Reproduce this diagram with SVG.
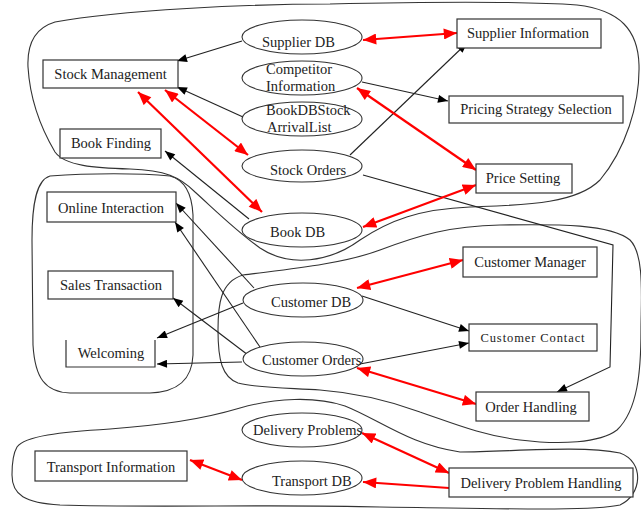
<svg xmlns="http://www.w3.org/2000/svg" width="641" height="510" viewBox="0 0 641 510">
<style>
text{font-family:"Liberation Serif","Times New Roman",serif;font-size:14.5px;fill:#222}
.box{fill:#fff;stroke:#333;stroke-width:1.2}
.ell{fill:#fff;stroke:#333;stroke-width:1.1}
.cl{fill:none;stroke:#333;stroke-width:1.1}
.bk{fill:none;stroke:#222;stroke-width:1.1;marker-end:url(#ab)}
.rd{fill:none;stroke:#f00;stroke-width:2.2;marker-end:url(#ar);marker-start:url(#ar)}
.rd1{fill:none;stroke:#f00;stroke-width:2.2;marker-end:url(#ar)}
.m{text-anchor:middle}
</style>
<defs>
<marker id="ab" viewBox="0 0 10 8" refX="10" refY="4" markerWidth="11" markerHeight="8" markerUnits="userSpaceOnUse" orient="auto-start-reverse"><path d="M0,0 L10,4 L0,8 Z" fill="#000"/></marker>
<marker id="ar" viewBox="0 0 12 10" refX="12" refY="5" markerWidth="14" markerHeight="11" markerUnits="userSpaceOnUse" orient="auto-start-reverse"><path d="M0,0 L12,5 L0,10 Z" fill="#f00"/></marker>
</defs>
<rect width="641" height="510" fill="#fff"/>
<g id="clusters">
<path class="cl" d="M28,67 C27,45 35,28 55,22 C120,10 250,4 330,4 C420,2 520,1 577,5 C620,10 638,30 639,65 C640,105 625,150 600,180 C575,205 520,205 470,207 C420,209 390,220 360,240 C330,262 290,268 260,248 C235,230 215,210 195,192 C180,177 165,170 130,169 C95,168 65,166 55,152 C42,130 30,100 28,67 Z"/>
<path class="cl" d="M50,176 C90,173 140,173 170,176 C185,180 192,195 193,215 L193,355 C192,380 178,392 150,393 L70,393 C45,392 35,378 33,345 L32,240 C32,205 36,180 50,176 Z"/>
<path class="cl" d="M243,275 C280,270 340,265 380,250 C420,235 450,226 500,225 C560,224 610,224 630,240 C645,255 641,300 641,330 C641,370 638,410 617,430 C600,443 560,445 520,440 C480,435 450,422 420,412 C390,401 360,393 320,390 C290,388 255,388 238,383 C222,377 218,360 218,330 C218,305 220,282 243,275 Z"/>
<path class="cl" d="M17,447 C25,436 60,432 110,429 C160,425 200,420 240,408 C275,398 315,396 345,406 C380,420 410,445 460,452 C510,452 580,445 620,453 C645,462 642,495 620,505 C590,512 480,508 380,507 C280,504 150,508 60,505 C25,503 12,495 12,475 C12,462 14,452 17,447 Z"/>
</g>
<g id="connectors">
<path class="bk" d="M242,41 L177,61"/>
<path class="bk" d="M243,117 L177,87"/>
<path class="bk" d="M362,82 L448,101"/>
<path class="bk" d="M350,155 L467,43"/>
<path class="bk" d="M363,175 L613,245 L610,367 L557,392"/>
<path class="bk" d="M249,219 L165,151"/>
<path class="bk" d="M254,288 L176,203"/>
<path class="bk" d="M260,347 L175,222"/>
<path class="bk" d="M248,355 L173,298"/>
<path class="bk" d="M243,303 L157,338"/>
<path class="bk" d="M242,362 L157,364"/>
<path class="bk" d="M362,296 L469,331"/>
<path class="bk" d="M360,364 L469,343"/>
<path class="rd" d="M363,40 L457,33"/>
<path class="rd" d="M165,90 L248,155"/>
<path class="rd" d="M138,92 L262,212"/>
<path class="rd" d="M357,88 L476,170"/>
<path class="rd" d="M363,227 L476,185"/>
<path class="rd" d="M357,288 L463,260"/>
<path class="rd" d="M357,368 L476,404"/>
<path class="rd" d="M362,433 L449,473"/>
<path class="rd1" d="M449,488 L363,482"/>
<path class="rd" d="M190,460 L242,480"/>
</g>
<g id="supplier-db"><ellipse class="ell" cx="302" cy="37" rx="60" ry="17"/><text x="262" y="47">Supplier DB</text></g>
<g id="competitor-information"><ellipse class="ell" cx="302" cy="78" rx="60" ry="17"/><text x="266" y="74">Competitor</text><text x="266" y="91">Information</text></g>
<g id="bookdbstock-arrivallist"><ellipse class="ell" cx="302" cy="119" rx="60" ry="17"/><text x="266" y="115">BookDBStock</text><text x="267" y="132">ArrivalList</text></g>
<g id="stock-orders"><ellipse class="ell" cx="302" cy="166" rx="60" ry="16"/><text x="270" y="175">Stock Orders</text></g>
<g id="book-db"><ellipse class="ell" cx="302" cy="230" rx="60" ry="17"/><text x="270" y="237">Book DB</text></g>
<g id="customer-db"><ellipse class="ell" cx="303" cy="300" rx="60" ry="17"/><text x="271" y="307">Customer DB</text></g>
<g id="customer-orders"><ellipse class="ell" cx="303" cy="359" rx="60" ry="17"/><text x="262" y="365">Customer Orders</text></g>
<g id="delivery-problems"><ellipse class="ell" cx="302" cy="430" rx="60" ry="17"/><text x="253" y="435">Delivery Problems</text></g>
<g id="transport-db"><ellipse class="ell" cx="302" cy="478" rx="60" ry="17"/><text x="272" y="486">Transport DB</text></g>
<g id="stock-management"><rect class="box" x="43" y="60" width="135" height="28"/><text class="m" x="110.5" y="79">Stock Management</text></g>
<g id="book-finding"><rect class="box" x="60" y="129" width="101" height="29"/><text class="m" x="111" y="148">Book Finding</text></g>
<g id="online-interaction"><rect class="box" x="47" y="192" width="129" height="30"/><text class="m" x="111" y="213">Online Interaction</text></g>
<g id="sales-transaction"><rect class="box" x="48" y="271" width="125" height="28"/><text class="m" x="111" y="290">Sales Transaction</text></g>
<g id="welcoming"><path class="box" fill="none" d="M66,340 V367 H155 V340"/><text class="m" x="111" y="358">Welcoming</text></g>
<g id="supplier-information"><rect class="box" x="457" y="19" width="144" height="29"/><text class="m" x="528" y="38">Supplier Information</text></g>
<g id="pricing-strategy-selection"><rect class="box" x="449" y="96" width="174" height="27"/><text class="m" x="536" y="114">Pricing Strategy Selection</text></g>
<g id="price-setting"><rect class="box" x="476" y="164" width="96" height="29"/><text class="m" x="523" y="183">Price Setting</text></g>
<g id="customer-manager"><rect class="box" x="463" y="247" width="134" height="30"/><text class="m" x="530" y="267">Customer Manager</text></g>
<g id="customer-contact"><rect class="box" x="469" y="324" width="128" height="27"/><text class="m" x="533" y="342" style="font-size:12.5px;letter-spacing:0.9px">Customer Contact</text></g>
<g id="order-handling"><rect class="box" x="476" y="392" width="113" height="29"/><text class="m" x="531" y="412">Order Handling</text></g>
<g id="delivery-problem-handling"><rect class="box" x="449" y="468" width="184" height="29"/><text class="m" x="541" y="488">Delivery Problem Handling</text></g>
<g id="transport-information"><rect class="box" x="35" y="451" width="152" height="30"/><text class="m" x="111" y="472">Transport Information</text></g>
</svg>
